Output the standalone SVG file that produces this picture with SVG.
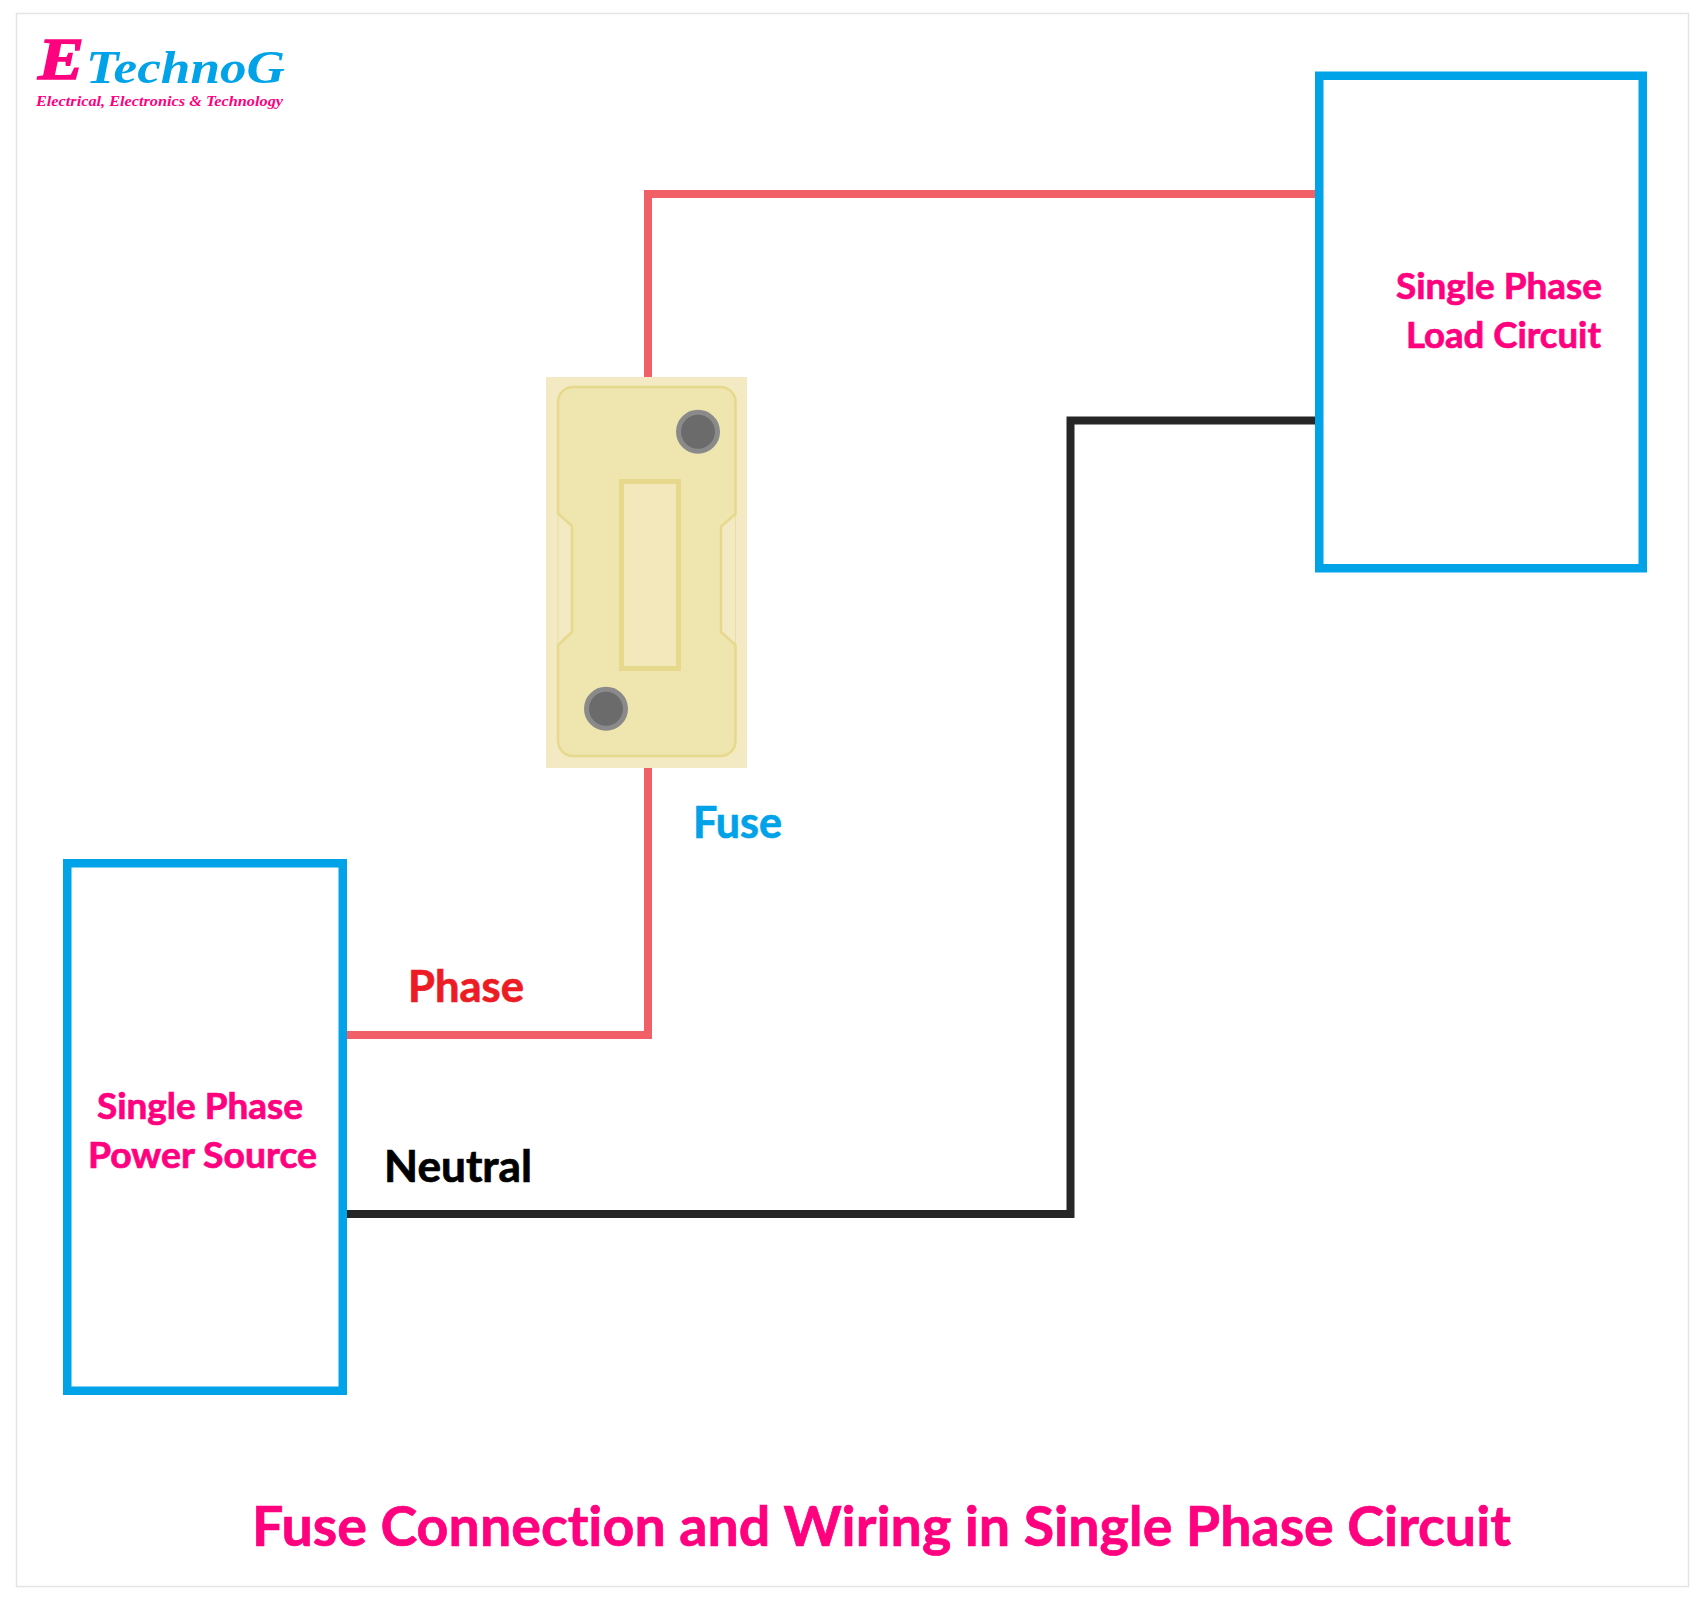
<svg xmlns="http://www.w3.org/2000/svg" width="1705" height="1597" viewBox="0 0 1705 1597">
<style>
.box{fill:#fff;stroke:#00a2e8;stroke-width:8.5}
.wire{fill:none;stroke-width:8;stroke-linejoin:miter}
.red{stroke:#f15f67}.blk{stroke:#262626}
text{font-family:Lato,"Liberation Sans",sans-serif;font-weight:700;font-variant-ligatures:none;stroke-width:.7;paint-order:stroke}
.lbl{fill:#ff007f;stroke:#ff007f;font-size:36px}
.logo{font-family:"Liberation Serif",serif;font-style:italic;font-weight:700;stroke-width:0}
.edge{fill:none;stroke:#eadf9f;stroke-width:1}
</style>
<rect width="1705" height="1597" fill="#fff"/>
<rect x="16.5" y="13.5" width="1672" height="1573" fill="#fff" stroke="#e4e4e4" stroke-width="1.5"/>
<g id="connectors">
<path class="wire red" d="M347 1035H648V768M648 377V194H1315"/>
<path class="wire blk" d="M347 1214H1070.500V420.500H1315"/>
</g>
<g id="logo">
<text class="logo" x="38" y="79" font-size="60" fill="#ff007f" stroke="#ff007f" style="stroke-width:1.5px" textLength="46" lengthAdjust="spacingAndGlyphs">E</text>
<text class="logo" x="86" y="83" font-size="47" fill="#00a2e8" textLength="199" lengthAdjust="spacingAndGlyphs">TechnoG</text>
<text class="logo" x="36" y="106" font-size="15.500" fill="#ff007f" textLength="247" lengthAdjust="spacingAndGlyphs">Electrical, Electronics &amp; Technology</text>
</g>
<g id="fuse">
<rect x="546" y="377" width="201" height="391" fill="#f3e9c3"/>
<path class="edge" d="M558 513.500V645M735.500 514V645"/>
<path d="M573 387H720.500A15 15 0 0 1 735.500 402V514L721 526.500V632L735.500 645V741A15 15 0 0 1 720.500 756H573A15 15 0 0 1 558 741V645L572 632V526L558 513.500V402A15 15 0 0 1 573 387Z" fill="#efe5af" stroke="#e6d98c" stroke-width="2.500"/>
<rect x="621.500" y="481.500" width="57" height="187" fill="#f2e8bc" stroke="#e6d98c" stroke-width="5"/>
<circle cx="698" cy="431.700" r="19.500" fill="#6b6b6b" stroke="#8a8a8a" stroke-width="5"/>
<circle cx="606" cy="708.700" r="19.500" fill="#6b6b6b" stroke="#8a8a8a" stroke-width="5"/>
</g>
<g id="source">
<rect class="box" x="67.250" y="863.250" width="275.500" height="527.500"/>
<text class="lbl" x="97" y="1118.500" textLength="206" lengthAdjust="spacingAndGlyphs">Single Phase</text>
<text class="lbl" x="88" y="1167.500" textLength="229" lengthAdjust="spacingAndGlyphs">Power Source</text>
</g>
<g id="load">
<rect class="box" x="1319.250" y="75.750" width="323.500" height="492.500"/>
<text class="lbl" x="1396" y="298.500" textLength="206" lengthAdjust="spacingAndGlyphs">Single Phase</text>
<text class="lbl" x="1406" y="347.500" textLength="195" lengthAdjust="spacingAndGlyphs">Load Circuit</text>
</g>
<text id="label-fuse" x="693" y="838" font-size="43" fill="#00a2e8" stroke="#00a2e8" textLength="89" lengthAdjust="spacingAndGlyphs">Fuse</text>
<text id="label-phase" x="408" y="1001.500" font-size="43" fill="#ed1c24" stroke="#ed1c24" textLength="116" lengthAdjust="spacingAndGlyphs">Phase</text>
<text id="label-neutral" x="384" y="1182" font-size="43" fill="#000" stroke="#000" textLength="148" lengthAdjust="spacingAndGlyphs">Neutral</text>
<text id="title" x="252" y="1546" font-size="56" fill="#ff007f" stroke="#ff007f" textLength="1259" lengthAdjust="spacingAndGlyphs">Fuse Connection and Wiring in Single Phase Circuit</text>
</svg>
